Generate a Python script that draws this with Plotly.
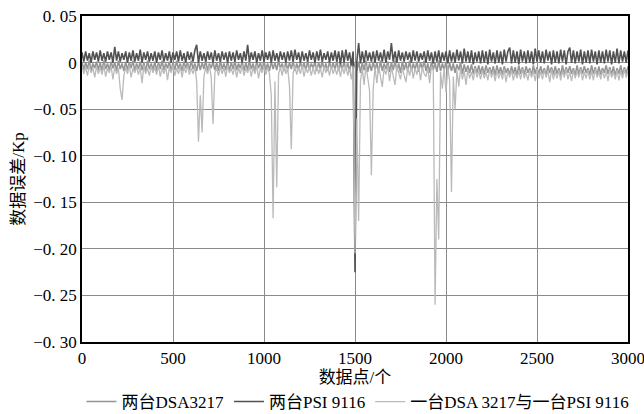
import numpy as np
import plotly.graph_objects as go

# x positions (data points), sampled every 10 points
x_step = 10

# values in units of 0.001 Kp, one row = 200 data points
dsa_pair = [
    1, -8, 0, -7, 2, -9, -1, -6, 1, -8, 0, -9, 2, -7, -1, -8, 1, -6, 0, -9,
    2, -7, -1, -9, 1, -8, 0, -6, 2, -9, -1, -7, 1, -8, 0, -10, 2, -7, -1, -8,
    1, -9, 0, -7, 2, -8, -1, -6, 1, -9, 0, -8, 2, -7, -1, -9, 1, -6, 0, -8,
    2, -7, -1, -9, 1, -8, 0, -7, 2, -9, -1, -6, 1, -8, 0, -9, 2, -7, -1, -8,
    1, -9, 0, -7, 2, -8, -1, -6, 1, -9, 0, -8, 2, -7, -1, -9, 1, -6, 0, -8,
    2, -8, -1, -9, 1, -7, 0, -8, 2, -6, -1, -9, 1, -8, 0, -7, 2, -9, -1, -8,
    1, -7, 0, -9, 2, -8, -1, -6, 1, -9, 0, -7, 2, -8, -1, -9, 1, -7, 0, -8,
    2, -9, -1, -7, 1, -8, 0, -10, 2, -7, -1, -9, 1, -11, 0, -8, 2, -10, -1, -9,
    1, -8, 0, -11, 2, -9, -1, -7, 1, -10, 0, -8, 2, -9, -1, -11, 1, -8, 0, -10,
    2, -9, -1, -8, 1, -10, 0, -7, 2, -9, -1, -11, 1, -8, 0, -10, 2, -9, -1, -8,
    1, -10, 0, -9, -1, -11, -2, -8, 0, -12, -2, -10, -3, -11, -2, -12, -4, -11, -3, -12,
    -4, -13, -3, -11, -5, -12, -4, -14, -3, -12, -5, -13, -4, -11, -6, -13, -4, -12, -5, -14,
    -3, -12, -5, -13, -4, -11, -6, -14, -3, -12, -5, -13, -4, -12, -6, -14, -3, -11, -5, -13,
    -4, -12, -6, -14, -3, -13, -5, -11, -4, -12, -6, -14, -3, -13, -5, -12, -4, -11, -6, -13,
    -3, -12, -5, -14, -4, -13, -6, -11, -3, -12, -5, -13, -4, -14, -6, -12, -3, -13, -5, -12,
    -4,
]

psi_pair = [
    11, 1, 12, 2, 10, 0, 12, 3, 11, 1, 13, 2, 10, 1, 12, 3, 11, 0, 17, 2,
    12, 1, 10, 3, 12, 0, 11, 2, 13, 1, 10, 2, 14, 0, 11, 3, 12, 1, 10, 2,
    12, 0, 11, 3, 13, 1, 10, 2, 12, 0, 11, 3, 12, 1, 13, 2, 10, 0, 12, 3,
    11, 1, 13, 19, 0, 12, 2, 10, 1, 12, 3, 11, 0, 13, 2, 10, 1, 12, 3, 11,
    0, 12, 2, 11, 1, 13, 3, 10, 0, 12, 2, 19, 1, 11, 3, 12, 0, 10, 2, 13,
    1, 11, 3, 12, 0, 13, 2, 10, 1, 12, 3, 11, 0, 12, 2, 13, 1, 14, 3, 11,
    0, 12, 2, 10, 1, 13, 3, 11, 0, 12, 2, 14, 1, 10, 3, 12, 0, 11, 2, 13,
    1, 12, -2, 13, 0, 14, 2, 11, -3, 12, -225, 1, 21, -1, 12, 0, 13, 2, 11, 1,
    12, 0, 13, 2, 11, 1, 14, 0, 12, 3, 21, 1, 12, 0, 13, 2, 11, 1, 12, 3,
    11, 0, 13, 2, 12, 1, 10, 3, 12, 0, 13, 2, 11, -1, 12, 1, 13, 0, 11, 2,
    12, -1, 13, 1, 11, 0, 14, 2, 12, -1, 15, 1, 12, 0, 13, -2, 11, 1, 12, -1,
    13, 0, 12, -2, 14, 1, 11, -1, 13, 0, 12, -2, 14, 1, 12, 16, -1, 13, 0, 12,
    -2, 14, 1, 12, -1, 13, 0, 12, -2, 15, 1, 13, 0, 12, -1, 14, 2, 12, -2, 13,
    0, 12, -1, 14, 1, 13, -2, 12, 16, 0, 13, -1, 12, 1, 14, -2, 12, 0, 13, -1,
    14, 1, 12, -2, 13, 0, 12, -1, 14, 1, 13, -2, 12, 0, 15, -1, 13, 1, 12, 0,
    13,
]

mixed_pair = [
    -4, -12, -5, -14, -3, -11, -6, -16, -4, -12, -5, -13, -3, -15, -6, -11, -4, -18, -5, -12,
    -6, -28, -40, -14, -5, -12, -3, -16, -6, -11, -4, -13, -5, -22, -3, -12, -6, -14, -4, -11,
    -5, -13, -3, -15, -6, -12, -4, -19, -5, -11, -3, -14, -6, -12, -4, -16, -5, -11, -3, -13,
    -6, -12, -4, -20, -85, -35, -75, -15, -5, -12, -3, -16, -66, -11, -6, -14, -4, -12, -5, -15,
    -3, -11, -6, -13, -4, -16, -5, -12, -3, -14, -6, -11, -4, -15, -5, -12, -3, -17, -6, -11,
    -4, -13, -5, -12, -35, -167, -20, -134, -12, -5, -14, -3, -12, -6, -25, -93, -11, -4, -13, -5,
    -12, -3, -15, -6, -11, -4, -14, -5, -13, -3, -12, -6, -16, -4, -11, -5, -14, -3, -12, -6,
    -13, -4, -15, -5, -12, -3, -14, -6, -18, -4, -205, -60, -170, -20, -6, -24, -3, -15, -30, -121,
    -28, -5, -22, -4, -15, -26, -6, -13, -3, -20, -5, -14, -24, -4, -12, -18, -6, -13, -21, -5,
    -14, -4, -17, -6, -13, -3, -19, -5, -12, -15, -6, -22, -4, -8, -260, -125, -190, -10, -28, -6,
    -32, -5, -20, -139, -15, -50, -8, -26, -6, -18, -9, -24, -7, -17, -10, -19, -6, -16, -9, -18,
    -8, -17, -10, -19, -7, -16, -9, -20, -8, -17, -10, -18, -7, -21, -9, -16, -8, -19, -10, -17,
    -9, -18, -7, -17, -10, -19, -8, -16, -9, -20, -7, -17, -10, -18, -8, -16, -9, -21, -7, -18,
    -10, -17, -8, -19, -9, -16, -7, -18, -10, -20, -8, -17, -9, -16, -7, -19, -10, -17, -8, -18,
    -9, -19, -7, -16, -10, -18, -8, -17, -9, -20, -7, -16, -10, -18, -8, -19, -9, -17, -7, -16,
    -9,
]

series_names = ["两台DSA3217", "两台PSI 9116", "一台DSA 3217与一台PSI 9116"]
series_colors = ["#959595", "#525252", "#bababa"]
series_widths = [1.6, 1.6, 1.3]

y_tickvals = [0.05, 0, -0.05, -0.10, -0.15, -0.20, -0.25, -0.30]
y_ticktext = ["0. 05", "0", "−0. 05", "−0. 10", "−0. 15", "−0. 20", "−0. 25", "−0. 30"]
x_tickvals = [0, 500, 1000, 1500, 2000, 2500, 3000]

fig = go.Figure()
for name, vals, col, w in zip(series_names, [dsa_pair, psi_pair, mixed_pair],
                              series_colors, series_widths):
    xs = np.arange(len(vals)) * x_step
    fig.add_trace(go.Scatter(
        x=xs, y=np.array(vals) / 1000.0, mode="lines", name=name,
        line=dict(color=col, width=w),
    ))

font_family = "Liberation Serif, Noto Sans CJK SC, serif"

fig.update_layout(
    width=644, height=414,
    margin=dict(l=82, r=16, t=16, b=72, autoexpand=False),
    paper_bgcolor="white", plot_bgcolor="white",
    font=dict(family=font_family, size=17, color="black"),
    showlegend=True,
    legend=dict(
        orientation="h", x=-0.001, xanchor="left", y=-0.184, yanchor="middle",
        font=dict(size=17), itemwidth=30, tracegroupgap=0,
        bgcolor="rgba(0,0,0,0)",
    ),
    xaxis=dict(
        range=[0, 3000], tickvals=x_tickvals, ticklabeloverflow="allow",
        showgrid=True, gridcolor="#8a8a8a", gridwidth=1,
        showline=True, linecolor="black", linewidth=1.5, mirror=True,
        ticks="", zeroline=False,
        title=dict(text="数据点/个", standoff=4, font=dict(size=17)),
    ),
    yaxis=dict(
        range=[-0.30, 0.05], tickvals=y_tickvals, ticktext=y_ticktext,
        showgrid=True, gridcolor="#8a8a8a", gridwidth=1,
        showline=True, linecolor="black", linewidth=1.5, mirror=True,
        ticks="", zeroline=False,
        title=dict(text="数据误差/Kp", standoff=4, font=dict(size=17)),
    ),
)

fig.write_html("out.html")
